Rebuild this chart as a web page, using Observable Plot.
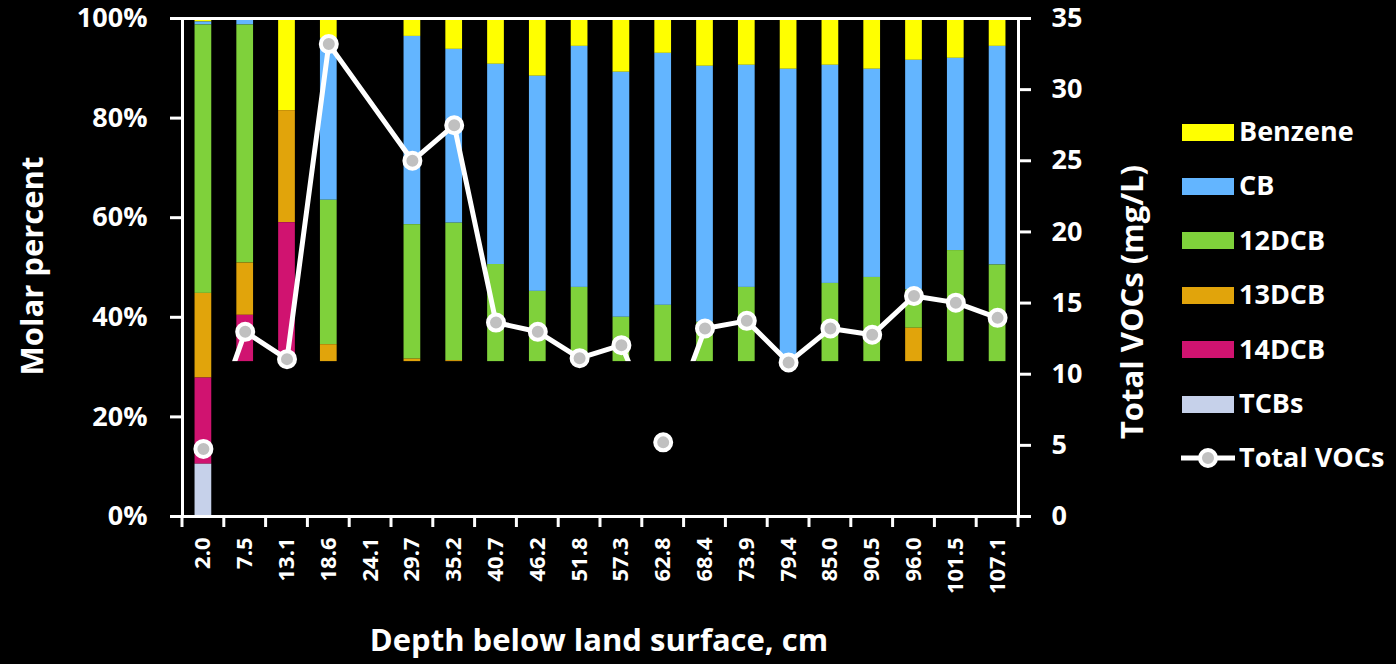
<!DOCTYPE html>
<html>
<head>
<meta charset="utf-8">
<script src="https://cdn.jsdelivr.net/npm/d3@7"></script>
<script src="https://cdn.jsdelivr.net/npm/@observablehq/plot@0.6"></script>
<style>
  html, body { margin: 0; background: #000; }
  #chart { position: relative; width: 1396px; height: 664px; overflow: hidden;
           font-family: "Open Sans", Lato, sans-serif; font-weight: 700; color: #fff; }
  #chart svg { position: absolute; left: 0; top: 0; }
  .axis-title { position: absolute; white-space: nowrap; font-size: 31px; line-height: 1; }
  .legend { position: absolute; left: 1181px; top: 105px; font-size: 27px; }
  .legend .row { position: absolute; left: 0; height: 30px; width: 220px; }
  .legend .row span { position: absolute; left: 58px; top: 50%; transform: translateY(-54%); white-space: nowrap; }
</style>
</head>
<body>
<div id="chart"></div>
<script>
// Sampling depths (cm) along the core
const depths = ["2.0", "7.5", "13.1", "18.6", "24.1", "29.7", "35.2", "40.7", "46.2", "51.8",
                "57.3", "62.8", "68.4", "73.9", "79.4", "85.0", "90.5", "96.0", "101.5", "107.1"];

// Molar percent of each compound at each depth (no sample at 24.1 cm)
const benzene = [0.7, 0, 18.5, 4.0, null, 3.6, 6.2, 9.2, 11.6, 5.6, 10.8, 7.0, 9.6, 9.4, 10.2, 9.4, 10.2, 8.4, 8.0, 5.6];
const cb      = [0.6, 1.3, 0, 32.5, null, 37.8, 34.9, 40.2, 43.2, 48.4, 49.2, 50.6, 51.4, 44.6, 58.8, 43.8, 41.8, 46.1, 38.6, 43.9];
const dcb12   = [53.9, 47.8, 0, 29.0, null, 27.0, 27.6, 40.0, 37.0, 38.0, 33.0, 35.0, 32.0, 38.0, 25.0, 38.0, 39.0, 7.7, 45.0, 42.0];
const dcb13   = [17.0, 10.5, 22.5, 5.5, null, 3.0, 2.5, 3.0, 2.0, 2.5, 2.0, 2.5, 2.0, 2.5, 2.0, 3.0, 3.0, 25.0, 3.0, 3.0];
const dcb14   = [17.3, 35.4, 52.0, 23.0, null, 22.0, 22.0, 5.0, 4.0, 3.5, 3.0, 3.0, 3.0, 3.5, 2.5, 3.5, 4.0, 8.0, 3.5, 3.5];
const tcbs    = [10.5, 5.0, 7.0, 6.0, null, 6.6, 6.8, 2.6, 2.2, 2.0, 2.0, 1.9, 2.0, 2.0, 1.5, 2.3, 2.0, 4.8, 1.9, 2.0];

// Total VOC concentration (mg/L)
const totalVOCs = [4.75, 12.98, 11.06, 33.2, null, 25.0, 27.5, 13.63, 12.98, 11.13,
                   12.04, 5.21, 13.21, 13.75, 10.83, 13.21, 12.77, 15.5, 15.03, 13.96];

// Legend order (top to bottom) and colours
const compounds = ["Benzene", "CB", "12DCB", "13DCB", "14DCB", "TCBs"];
const compoundColors = ["#ffff00", "#63b5ff", "#7fd13b", "#e1a40b", "#d01370", "#c6d1ea"];
const stackOrder = ["TCBs", "14DCB", "13DCB", "12DCB", "CB", "Benzene"]; // bottom to top

// Axis ticks
const percentTicks = [0, 0.2, 0.4, 0.6, 0.8, 1];
const vocTicks = [0, 5, 10, 15, 20, 25, 30, 35];
const vocMax = 35;

// Lower part of the panel is blanked out; only the shallowest column stays whole
const keptDepth = "2.0";
const blankLevel = 0.311;

const series = {Benzene: benzene, CB: cb, "12DCB": dcb12, "13DCB": dcb13, "14DCB": dcb14, TCBs: tcbs};
const rows = [];
for (const name of compounds) {
  series[name].forEach((v, i) => {
    if (v != null) rows.push({depth: depths[i], compound: name, share: v / 100});
  });
}
const vocRows = depths
  .map((d, i) => ({depth: d, voc: totalVOCs[i]}))
  .filter(d => d.voc != null)
  .map(d => ({...d, frac: d.voc / vocMax}));

function blankOut(index, {x, y}, values, dims) {
  const left = x(keptDepth);
  const right = dims.width - dims.marginRight;
  const top = y(blankLevel), bottom = y(0);
  return d3.create("svg:rect")
    .attr("x", left).attr("y", top)
    .attr("width", right - left).attr("height", bottom - top)
    .attr("fill", "#000").node();
}

function depthTicks(index, {x}, values, dims) {
  const step = x(depths[1]) - x(depths[0]);
  const half = x.bandwidth() / 2;
  const pos = depths.map(d => x(d) + half - step / 2);
  pos.push(x(depths[depths.length - 1]) + half + step / 2);
  const y0 = dims.height - dims.marginBottom;
  const g = d3.create("svg:g").attr("stroke", "#fff").attr("stroke-width", 3);
  g.selectAll("line").data(pos).join("line")
    .attr("x1", d => d).attr("x2", d => d)
    .attr("y1", y0).attr("y2", y0 + 11);
  return g.node();
}

const barOptions = {x: "depth", y: "share", fill: "compound", order: stackOrder};

const chart = Plot.plot({
  width: 1396,
  height: 664,
  marginLeft: 182,
  marginRight: 378,
  marginTop: 18,
  marginBottom: 148,
  style: {background: "#000", color: "#fff", fontFamily: "'Open Sans', Lato, sans-serif", fontWeight: 700, overflow: "visible"},
  x: {type: "band", domain: depths, paddingInner: 0.6, paddingOuter: 0.3, round: false, label: null},
  y: {domain: [0, 1], label: null},
  color: {domain: compounds, range: compoundColors},
  marks: [
    Plot.barY(rows.filter(d => d.depth !== keptDepth), barOptions),
    Plot.line(vocRows, {x: "depth", y: "frac", stroke: "#fff", strokeWidth: 5}),
    blankOut,
    Plot.barY(rows.filter(d => d.depth === keptDepth), barOptions),
    Plot.frame({stroke: "#fff", strokeWidth: 3}),
    Plot.axisY({anchor: "left", ticks: percentTicks, tickFormat: d3.format(".0%"),
                tickSize: 12, tickPadding: 23, strokeWidth: 3, fontSize: 27, label: null}),
    Plot.axisY({anchor: "right", ticks: vocTicks.map(v => v / vocMax), tickFormat: d => Math.round(d * vocMax),
                tickSize: 12, tickPadding: 21, strokeWidth: 3, fontSize: 27, label: null}),
    Plot.axisX({tickRotate: -90, tickSize: 0, tickPadding: 21, fontSize: 22, label: null}),
    depthTicks,
    Plot.dot(vocRows, {x: "depth", y: "frac", r: 8, fill: "#c0c0c0", stroke: "#fff", strokeWidth: 4})
  ]
});

const root = document.getElementById("chart");
root.appendChild(chart);

// Axis titles
function title(text, left, top, rotate) {
  const el = document.createElement("div");
  el.className = "axis-title";
  el.textContent = text;
  el.style.left = left + "px";
  el.style.top = top + "px";
  el.style.transform = `translate(-50%, -50%)` + (rotate ? ` rotate(${rotate}deg)` : "");
  root.appendChild(el);
}
title("Molar percent", 31, 266, -90);
title("Total VOCs (mg/L)", 1131, 302, -90);
title("Depth below land surface, cm", 599, 639, 0);

// Legend
const legend = document.createElement("div");
legend.className = "legend";
root.appendChild(legend);
const rowGap = 54.4;
compounds.forEach((name, i) => {
  const row = document.createElement("div");
  row.className = "row";
  row.style.top = (i * rowGap + 12) + "px";
  const sw = document.createElement("div");
  sw.style.cssText = `position:absolute;left:1px;top:6.5px;width:52px;height:17px;background:${compoundColors[i]}`;
  row.appendChild(sw);
  const label = document.createElement("span");
  label.textContent = name;
  row.appendChild(label);
  legend.appendChild(row);
});
const lineRow = document.createElement("div");
lineRow.className = "row";
lineRow.style.top = (compounds.length * rowGap + 12) + "px";
lineRow.innerHTML = `<svg width="56" height="30" style="position:absolute;left:0;top:0">
  <line x1="0" x2="54" y1="15" y2="15" stroke="#fff" stroke-width="5"/>
  <circle cx="27" cy="15" r="8" fill="#c0c0c0" stroke="#fff" stroke-width="4"/></svg>`;
const lineLabel = document.createElement("span");
lineLabel.textContent = "Total VOCs";
lineRow.appendChild(lineLabel);
legend.appendChild(lineRow);
</script>
</body>
</html>
